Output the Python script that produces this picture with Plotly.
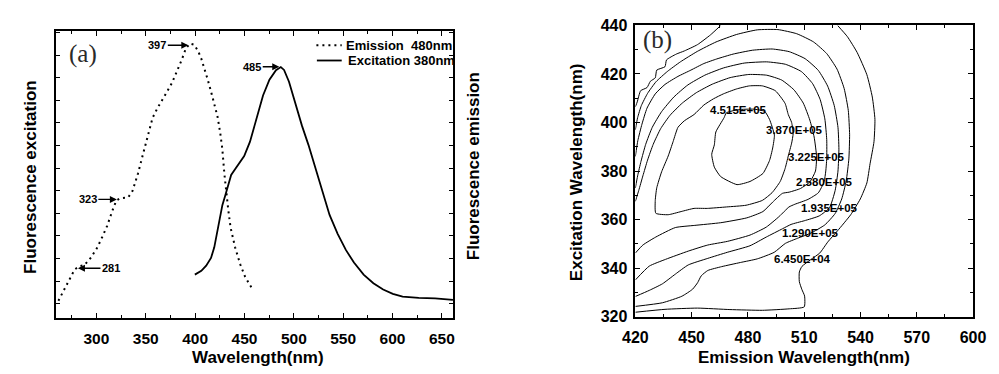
import plotly.graph_objects as go

# ---------------- Panel (a) data (intensity in % of axis height) ----------------
exc_wl = [261.5, 268.1, 274.0, 278.0, 282.9, 287.8, 294.4, 301.0, 305.9, 310.9, 315.8, 320.1,
          324.0, 332.2, 336.5, 342.1, 347.0, 352.0, 356.9, 361.8, 366.8, 371.7, 376.6, 381.6,
          386.5, 390.5, 394.7, 399.0, 403.0, 406.3, 409.5, 412.8, 416.1, 419.4, 422.7, 425.3,
          427.6, 429.6, 431.6, 433.6, 435.9, 440.5, 445.7, 450.7, 457.9]
exc_int = [6.1, 10.5, 14.4, 17.0, 18.1, 18.5, 21.1, 24.7, 28.3, 32.2, 37.1, 41.0,
           41.8, 42.1, 44.3, 50.4, 56.9, 63.7, 69.8, 73.2, 75.9, 79.0, 82.0, 85.9,
           90.1, 93.9, 95.7, 95.3, 93.1, 90.4, 87.0, 83.1, 79.0, 74.8, 70.2, 64.9,
           58.8, 50.4, 42.7, 37.7, 31.6, 24.7, 18.8, 14.4, 10.2]

emi_wl = [399.7, 406.3, 411.2, 416.1, 419.4, 422.7, 425.3, 427.6, 430.9, 434.2, 436.5, 440.8,
          445.7, 449.7, 455.6, 462.2, 468.8, 475.3, 481.9, 486.8, 490.1, 495.1, 501.6, 508.2,
          514.8, 521.4, 528.0, 536.2, 544.4, 552.7, 560.9, 570.7, 580.6, 590.5, 600.3, 610.2,
          626.6, 643.1, 661.2]
emi_int = [15.2, 16.5, 18.3, 21.0, 24.7, 30.5, 34.9, 39.4, 43.2, 47.7, 49.9, 52.1,
           54.3, 56.5, 61.5, 69.8, 77.6, 83.1, 86.4, 87.5, 86.5, 82.4, 74.8, 67.1,
           60.4, 52.7, 44.9, 36.0, 29.4, 23.8, 19.4, 15.2, 12.2, 10.0, 8.5, 7.5,
           7.1, 6.9, 6.4]

peak_text = ["397", "485", "323", "281"]
peak_wl = [393.1, 485.2, 320.7, 281.3]
peak_int = [95.1, 87.6, 41.4, 17.4]
peak_ax = [-31, -27, -29, 33]

legend_names = ["Emission  480nm", "Excitation 380nm"]

# ---------------- Panel (b) contour lines (emission wl, excitation wl) ----------------
c6450a_wl = [527.8, 533.0, 538.2, 543.4, 546.3, 547.7, 547.2, 545.1, 543.4, 539.9, 534.8, 527.8,
             522.6, 518.3, 513.5, 508.8, 507.4, 507.4, 508.8, 510.2, 510.0, 502.0, 487.7, 470.4,
             453.1, 435.8, 420.0]
c6450a_ex = [440.0, 435.4, 428.9, 419.7, 410.5, 401.3, 392.1, 383.0, 375.1, 368.5, 362.0, 355.4,
             350.8, 346.2, 343.5, 340.7, 338.4, 334.4, 331.1, 328.5, 324.0, 323.2, 322.6, 322.9,
             323.5, 323.0, 321.8]
c6450b_wl = [465.5, 460.0, 453.1, 446.1, 441.8, 436.6, 435.8, 431.4, 430.6, 428.0, 426.2, 422.8,
             421.0, 420.0]
c6450b_ex = [440.0, 436.1, 432.1, 429.5, 428.2, 425.8, 423.0, 421.6, 418.4, 417.0, 414.4, 413.1,
             408.5, 406.5]
c12900_wl = [420.0, 421.2, 423.2, 426.5, 431.0, 437.0, 444.0, 453.0, 463.0, 474.0, 485.0, 496.0,
             506.0, 515.0, 522.0, 527.5, 531.3, 533.5, 534.2, 533.8, 532.4, 530.0, 526.5, 521.0,
             513.5, 506.5, 500.0, 494.0, 485.0, 476.0, 466.0, 458.6, 455.1, 453.2, 450.5, 444.8,
             434.4, 420.0]
c12900_ex = [397.0, 402.0, 407.0, 412.0, 416.8, 421.0, 425.0, 429.3, 433.2, 436.3, 438.2, 438.3,
             436.6, 433.2, 428.4, 422.0, 414.0, 405.0, 395.0, 385.0, 376.0, 368.5, 362.5, 357.8,
             354.4, 352.3, 350.2, 346.5, 343.8, 342.3, 340.6, 339.0, 336.8, 334.0, 331.3, 328.4,
             325.7, 324.2]
c19350_wl = [420.0, 421.3, 423.5, 426.2, 430.6, 435.8, 442.7, 449.6, 456.5, 463.4, 472.1, 482.5,
             492.9, 502.0, 510.5, 517.5, 522.5, 526.0, 528.0, 528.5, 528.0, 526.5, 523.5, 518.0,
             510.0, 503.0, 498.4, 489.8, 481.1, 469.0, 458.6, 448.2, 441.3, 434.4, 427.4, 420.0]
c19350_ex = [386.0, 392.5, 399.3, 405.9, 411.8, 415.7, 419.0, 421.6, 424.3, 426.2, 428.2, 429.8,
             430.3, 429.2, 426.3, 421.5, 415.0, 407.0, 398.0, 389.0, 380.0, 372.0, 364.9, 361.5,
             359.5, 358.0, 356.2, 352.8, 349.2, 346.5, 344.0, 341.3, 337.5, 333.5, 330.8, 328.3]
c25800_wl = [420.0, 421.2, 423.0, 425.5, 429.0, 434.0, 440.5, 448.0, 457.0, 467.0, 478.0, 490.0,
             500.0, 508.5, 514.5, 518.5, 521.0, 522.0, 522.0, 521.5, 520.6, 517.5, 512.0, 505.0,
             501.9, 496.7, 489.8, 481.1, 469.0, 458.6, 448.2, 436.1, 427.4, 420.0]
c25800_ex = [373.0, 378.0, 384.0, 391.0, 398.0, 404.5, 410.5, 415.5, 419.5, 422.5, 424.5, 425.0,
             424.0, 421.0, 416.0, 409.5, 401.5, 393.0, 385.0, 380.0, 375.6, 371.0, 368.3, 366.3,
             365.2, 361.3, 356.9, 353.6, 351.0, 349.5, 347.0, 343.6, 340.8, 335.1]
c32250_wl = [420.0, 421.8, 424.0, 426.5, 429.5, 433.5, 438.5, 445.0, 452.5, 461.0, 470.5, 480.5,
             490.0, 498.0, 504.5, 509.5, 513.0, 515.3, 516.6, 516.0, 513.0, 508.0, 502.0, 498.4,
             493.2, 488.0, 479.4, 465.5, 451.7, 441.3, 430.9, 424.0, 420.0]
c32250_ex = [367.5, 372.0, 378.0, 384.5, 391.0, 397.5, 403.0, 408.0, 412.3, 415.8, 418.5, 419.8,
             419.5, 417.5, 413.5, 408.0, 401.0, 394.0, 385.8, 380.0, 375.5, 372.8, 371.3, 370.8,
             367.2, 363.3, 360.7, 358.7, 357.6, 356.7, 352.8, 349.5, 346.2]
c38700_wl = [504.1, 503.3, 501.5, 499.8, 494.6, 487.7, 480.8, 473.8, 466.9, 461.7, 456.5, 451.3,
             446.1, 442.7, 440.1, 437.5, 434.0, 431.4, 430.6, 430.9, 437.5, 444.4, 451.3, 458.3,
             468.6, 479.0, 487.7, 492.9, 497.2, 499.8, 501.5, 503.3, 504.1]
c38700_ex = [395.4, 400.0, 403.3, 407.9, 413.1, 415.1, 415.1, 413.8, 411.8, 409.8, 407.2, 403.3,
             400.7, 398.0, 392.1, 386.2, 379.7, 373.1, 367.9, 362.6, 362.0, 363.3, 364.6, 364.6,
             365.2, 365.9, 367.9, 371.1, 375.7, 381.0, 386.2, 391.5, 395.4]
c45150_wl = [483.0, 475.0, 468.5, 467.3, 462.9, 462.1, 460.7, 462.1, 465.5, 474.2, 481.1, 488.0,
             491.5, 493.2, 494.1, 491.5, 488.9, 483.0]
c45150_ex = [405.5, 405.3, 404.0, 402.0, 396.1, 390.8, 386.9, 381.6, 377.7, 374.4, 375.7, 379.0,
             384.3, 389.5, 394.8, 401.3, 404.6, 405.5]

level_text = ["4.515E+05", "3.870E+05", "3.225E+05", "2.580E+05", "1.935E+05", "1.290E+05", "6.450E+04"]
level_wl = [475.0, 504.8, 516.6, 520.6, 523.5, 513.5, 509.3]
level_ex = [405.0, 397.0, 385.8, 375.6, 364.9, 354.4, 343.6]

# ---------------- Figure ----------------
W, H = 999, 374
BOLD = dict(family="Liberation Sans, Arial, sans-serif", color="black", weight="bold")


def px(xp):
    return xp / W


def py(yp):
    return (H - yp) / H


fig = go.Figure()

fig.add_trace(go.Scatter(x=exc_wl, y=exc_int, mode="lines", name=legend_names[0],
                         line=dict(color="black", width=2, dash="2px,4px"),
                         xaxis="x", yaxis="y", showlegend=False))
fig.add_trace(go.Scatter(x=emi_wl, y=emi_int, mode="lines", name=legend_names[1],
                         line=dict(color="black", width=1.8),
                         xaxis="x", yaxis="y", showlegend=False))

contours = [(c6450a_wl, c6450a_ex), (c6450b_wl, c6450b_ex), (c12900_wl, c12900_ex),
            (c19350_wl, c19350_ex), (c25800_wl, c25800_ex), (c32250_wl, c32250_ex),
            (c38700_wl, c38700_ex), (c45150_wl, c45150_ex)]
for cx, cy in contours:
    fig.add_trace(go.Scatter(x=cx, y=cy, mode="lines",
                             line=dict(color="black", width=1, shape="spline", smoothing=0.5),
                             xaxis="x2", yaxis="y2", showlegend=False, hoverinfo="skip"))

axis_common = dict(showline=True, linecolor="black", linewidth=1.5, mirror="ticks",
                   ticks="inside", tickcolor="black", tickwidth=1.2, showgrid=False,
                   zeroline=False)

fig.update_layout(
    width=W, height=H,
    margin=dict(l=0, r=0, t=0, b=0),
    paper_bgcolor="white", plot_bgcolor="white",
    showlegend=False,
    xaxis=dict(domain=[px(44), px(452)], range=[258.9, 661.5], anchor="y",
               tickmode="linear", tick0=300, dtick=50, ticklen=5,
               tickfont=dict(size=15.5, **BOLD), ticklabelstandoff=5,
               minor=dict(dtick=25, tick0=275, ticklen=3, ticks="inside", tickcolor="black"),
               **axis_common),
    yaxis=dict(domain=[py(325), py(24.3)], range=[0, 100], anchor="x",
               tickmode="linear", tick0=5.02, dtick=7.88, ticklen=4,
               showticklabels=False, **axis_common),
    xaxis2=dict(domain=[px(639), px(985.7)], range=[420, 600], anchor="y2",
                tickmode="linear", tick0=420, dtick=30, ticklen=5,
                tickfont=dict(size=16, **BOLD), ticklabelstandoff=5,
                minor=dict(dtick=15, ticklen=3, ticks="inside", tickcolor="black"),
                **axis_common),
    yaxis2=dict(domain=[py(323.3), py(18.3)], range=[320, 440], anchor="x2",
                tickmode="linear", tick0=320, dtick=20, ticklen=5,
                tickfont=dict(size=16, **BOLD), ticklabelstandoff=3,
                minor=dict(dtick=10, ticklen=3, ticks="inside", tickcolor="black"),
                **axis_common),
)

ann = []
for t, xv, yv, axv in zip(peak_text, peak_wl, peak_int, peak_ax):
    ann.append(dict(x=xv, y=yv, xref="x", yref="y", text=t, showarrow=True,
                    ax=axv, ay=0, arrowhead=2, arrowsize=1, arrowwidth=1.4,
                    arrowcolor="black", font=dict(size=11, **BOLD)))
for t, xv, yv in zip(level_text, level_wl, level_ex):
    ann.append(dict(x=xv, y=yv, xref="x2", yref="y2", text=t, showarrow=False,
                    font=dict(size=11.5, **BOLD)))

serif = dict(family="Liberation Serif, Times New Roman, serif", size=25, color="#2a2a2a")
ann.append(dict(x=px(55), y=py(48), xref="paper", yref="paper", text="(a)", showarrow=False,
                xanchor="left", yanchor="middle", font=serif))
ann.append(dict(x=px(645), y=py(33), xref="paper", yref="paper", text="(b)", showarrow=False,
                xanchor="left", yanchor="middle", font=serif))

ann.append(dict(x=px(340), y=py(39), xref="paper", yref="paper", text=legend_names[0],
                showarrow=False, xanchor="left", yanchor="middle", font=dict(size=13, **BOLD)))
ann.append(dict(x=px(342), y=py(55), xref="paper", yref="paper", text=legend_names[1],
                showarrow=False, xanchor="left", yanchor="middle", font=dict(size=13, **BOLD)))

title_font = dict(size=17, **BOLD)
ann.append(dict(x=px(252), y=py(366), xref="paper", yref="paper", text="Wavelength(nm)",
                showarrow=False, xanchor="center", yanchor="middle", font=title_font))
ann.append(dict(x=px(18.5), y=py(177), xref="paper", yref="paper", text="Fluorescence excitation",
                showarrow=False, textangle=-90, xanchor="center", yanchor="middle", font=title_font))
ann.append(dict(x=px(473), y=py(166), xref="paper", yref="paper", text="Fluorescence emission",
                showarrow=False, textangle=-90, xanchor="center", yanchor="middle", font=title_font))
ann.append(dict(x=px(812.5), y=py(366.5), xref="paper", yref="paper", text="Emission Wavelength(nm)",
                showarrow=False, xanchor="center", yanchor="middle", font=title_font))
ann.append(dict(x=px(578), y=py(172), xref="paper", yref="paper", text="Excitation Wavelength(nm)",
                showarrow=False, textangle=-90, xanchor="center", yanchor="middle", font=title_font))

fig.update_layout(annotations=ann)

fig.add_shape(type="line", xref="paper", yref="paper", x0=px(311.5), x1=px(337.5), y0=py(39), y1=py(39),
              line=dict(color="black", width=2, dash="2px,4px"))
fig.add_shape(type="line", xref="paper", yref="paper", x0=px(312), x1=px(337.5), y0=py(55), y1=py(55),
              line=dict(color="black", width=1.8))

fig.write_html("out.html", config={"displayModeBar": False},
               post_script="document.body.style.margin='0';document.body.style.overflow='hidden';")
